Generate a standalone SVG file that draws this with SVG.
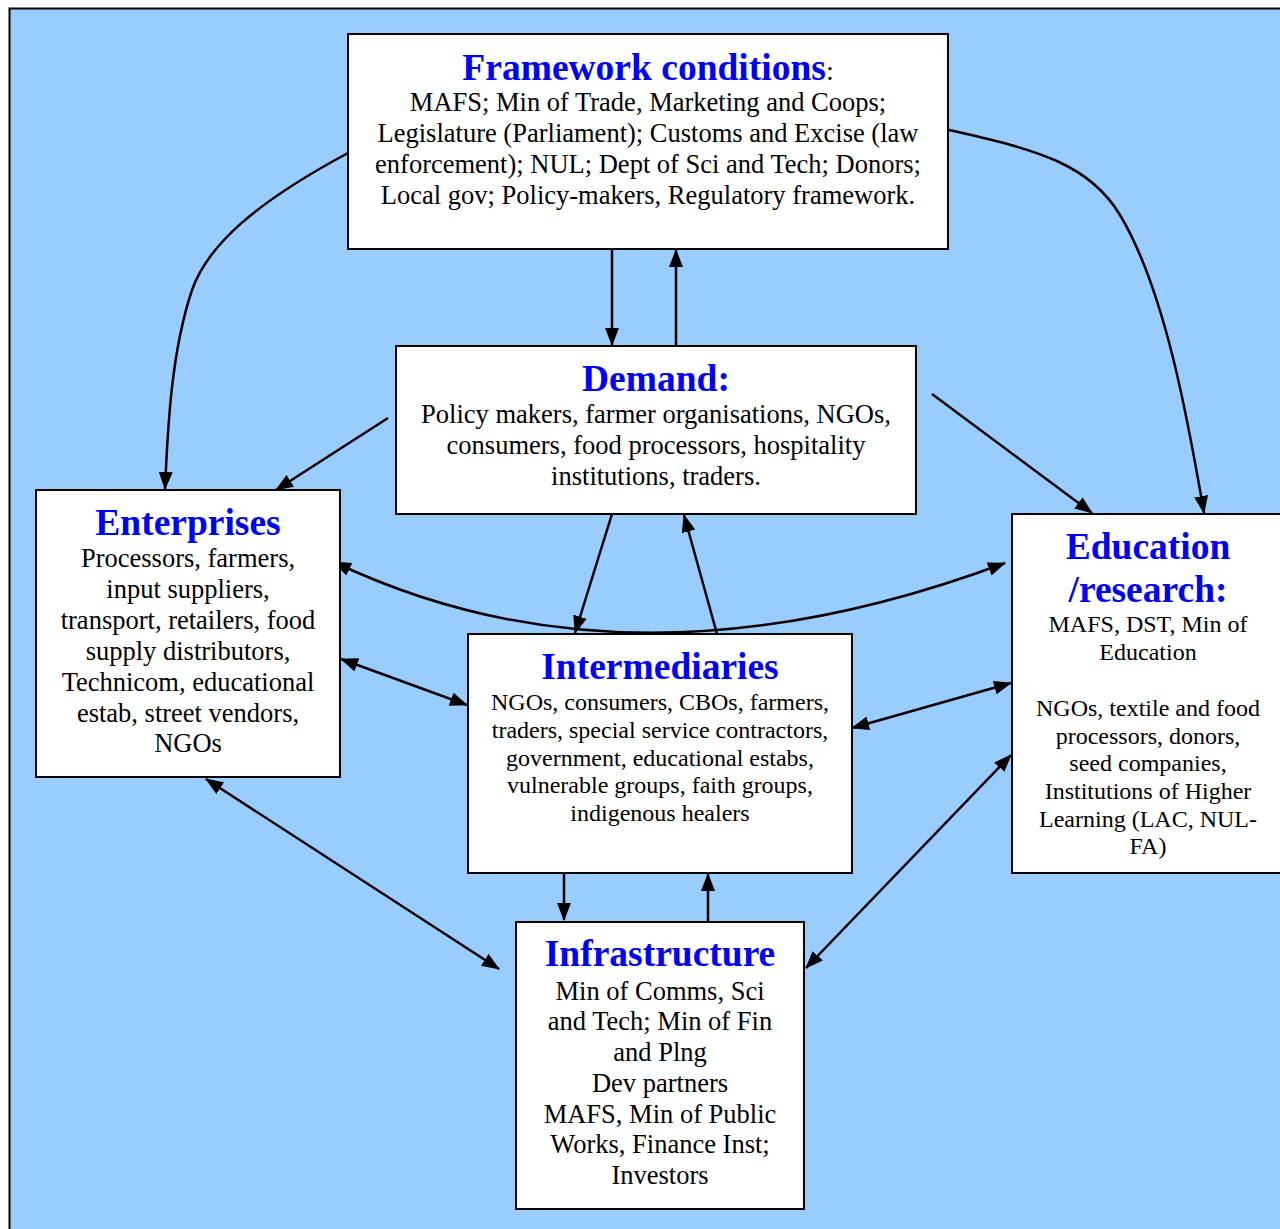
<svg xmlns="http://www.w3.org/2000/svg" width="1280" height="1229" viewBox="0 0 1280 1229">
<style>
.box{fill:#fff;stroke:#000;stroke-width:2}
.t{font-family:"Liberation Serif","Times New Roman",serif;font-weight:bold;font-size:37.5px;fill:#0000FF;text-anchor:middle}
.b{font-family:"Liberation Serif","Times New Roman",serif;font-size:26.5px;fill:#000;text-anchor:middle}
.s{font-family:"Liberation Serif","Times New Roman",serif;font-size:24px;fill:#000;text-anchor:middle}
.c{fill:none;stroke:#000;stroke-width:2.5}
</style>
<defs>
<marker id="ah" markerUnits="userSpaceOnUse" markerWidth="18" markerHeight="14" refX="17" refY="7" orient="auto-start-reverse" viewBox="0 0 18 14">
<path d="M0,0 L18,7 L0,14 z" fill="#000"/>
</marker>
</defs>
<rect x="0" y="0" width="1280" height="1229" fill="#fff"/>
<rect x="9.5" y="8.5" width="1290" height="1240" fill="#99CCFF" stroke="#000" stroke-width="2"/>

<g id="connectors">
<line class="c" x1="612" y1="249" x2="612" y2="345" marker-end="url(#ah)"/>
<line class="c" x1="676" y1="346" x2="676" y2="250" marker-end="url(#ah)"/>
<path class="c" d="M348,153 C255,203 208,245 192,290 C172,350 168,420 165,489" marker-end="url(#ah)"/>
<path class="c" d="M949,130 C1040,150 1090,165 1120,215 C1165,290 1188,420 1204,513" marker-end="url(#ah)"/>
<line class="c" x1="388" y1="418" x2="276" y2="490" marker-end="url(#ah)"/>
<line class="c" x1="932" y1="394" x2="1092" y2="513" marker-end="url(#ah)"/>
<line class="c" x1="612" y1="514" x2="575" y2="633" marker-end="url(#ah)"/>
<line class="c" x1="717" y1="634" x2="684" y2="515" marker-end="url(#ah)"/>
<path class="c" d="M334,562 Q630,703 1005,563" marker-start="url(#ah)" marker-end="url(#ah)"/>
<line class="c" x1="341" y1="659" x2="467" y2="705" marker-start="url(#ah)" marker-end="url(#ah)"/>
<line class="c" x1="852" y1="728" x2="1011" y2="683" marker-start="url(#ah)" marker-end="url(#ah)"/>
<line class="c" x1="206" y1="779" x2="499" y2="969" marker-start="url(#ah)" marker-end="url(#ah)"/>
<line class="c" x1="1011" y1="755" x2="806" y2="968" marker-start="url(#ah)" marker-end="url(#ah)"/>
<line class="c" x1="564" y1="873" x2="564" y2="920" marker-end="url(#ah)"/>
<line class="c" x1="708" y1="921" x2="708" y2="874" marker-end="url(#ah)"/>
</g>

<g id="framework">
<rect class="box" x="348" y="34" width="600" height="215"/>
<text class="t" x="648" y="80">Framework conditions<tspan style="fill:#000;font-weight:normal;font-size:28px">:</tspan></text>
<text class="b" x="648" y="111">MAFS; Min of Trade, Marketing and Coops;</text>
<text class="b" x="648" y="142">Legislature (Parliament); Customs and Excise (law</text>
<text class="b" x="648" y="173">enforcement); NUL; Dept of Sci and Tech; Donors;</text>
<text class="b" x="648" y="204">Local gov; Policy-makers, Regulatory framework.</text>
</g>

<g id="demand">
<rect class="box" x="396" y="346" width="520" height="168"/>
<text class="t" x="656" y="391">Demand:</text>
<text class="b" x="656" y="423">Policy makers, farmer organisations, NGOs,</text>
<text class="b" x="656" y="454">consumers, food processors, hospitality</text>
<text class="b" x="656" y="485">institutions, traders.</text>
</g>

<g id="enterprises">
<rect class="box" x="36" y="490" width="304" height="287"/>
<text class="t" x="188" y="535">Enterprises</text>
<text class="b" x="188" y="567">Processors, farmers,</text>
<text class="b" x="188" y="598">input suppliers,</text>
<text class="b" x="188" y="629">transport, retailers, food</text>
<text class="b" x="188" y="660">supply distributors,</text>
<text class="b" x="188" y="691">Technicom, educational</text>
<text class="b" x="188" y="722">estab, street vendors,</text>
<text class="b" x="188" y="752">NGOs</text>
</g>

<g id="intermediaries">
<rect class="box" x="468" y="634" width="384" height="239"/>
<text class="t" x="660" y="679">Intermediaries</text>
<text class="s" x="660" y="710">NGOs, consumers, CBOs, farmers,</text>
<text class="s" x="660" y="738">traders, special service contractors,</text>
<text class="s" x="660" y="766">government, educational estabs,</text>
<text class="s" x="660" y="793">vulnerable groups, faith groups,</text>
<text class="s" x="660" y="821">indigenous healers</text>
</g>

<g id="education">
<rect class="box" x="1012" y="514" width="290" height="359"/>
<text class="t" x="1148" y="559">Education</text>
<text class="t" x="1148" y="602">/research:</text>
<text class="s" x="1148" y="632">MAFS, DST, Min of</text>
<text class="s" x="1148" y="660">Education</text>
<text class="s" x="1148" y="716">NGOs, textile and food</text>
<text class="s" x="1148" y="744">processors, donors,</text>
<text class="s" x="1148" y="771">seed companies,</text>
<text class="s" x="1148" y="799">Institutions of Higher</text>
<text class="s" x="1148" y="827">Learning (LAC, NUL-</text>
<text class="s" x="1148" y="854">FA)</text>
</g>

<g id="infrastructure">
<rect class="box" x="516" y="922" width="288" height="287"/>
<text class="t" x="660" y="966">Infrastructure</text>
<text class="b" x="660" y="1000">Min of Comms, Sci</text>
<text class="b" x="660" y="1030">and Tech; Min of Fin</text>
<text class="b" x="660" y="1061">and Plng</text>
<text class="b" x="660" y="1092">Dev partners</text>
<text class="b" x="660" y="1123">MAFS, Min of Public</text>
<text class="b" x="660" y="1153">Works, Finance Inst;</text>
<text class="b" x="660" y="1184">Investors</text>
</g>
</svg>
